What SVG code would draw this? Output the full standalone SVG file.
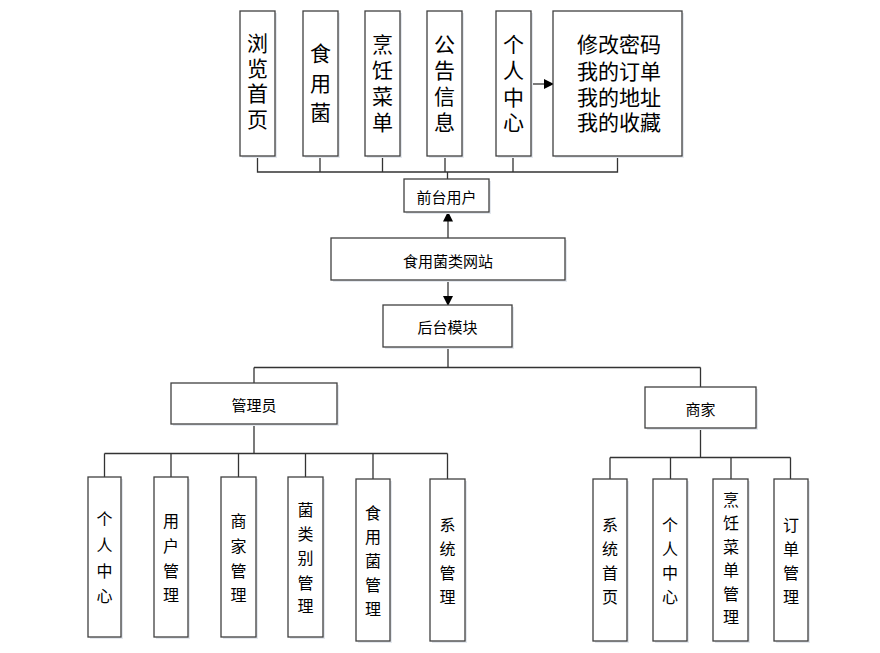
<svg xmlns="http://www.w3.org/2000/svg" width="880" height="653" viewBox="0 0 880 653">
<defs>
<marker id="arr" markerWidth="10" markerHeight="10" refX="9" refY="5" orient="auto" markerUnits="userSpaceOnUse">
<path d="M0,0 L10,5 L0,10 Z" fill="#000"/>
</marker>
<style>
.box{fill:#fff;stroke:#404040;stroke-width:1.3}
.sh{fill:#e4e8ee}
.t{font-family:"Noto Sans CJK SC","Noto Sans",sans-serif;fill:#000;text-anchor:middle;dominant-baseline:central}
.big{font-size:21px}
.mid{font-size:15px}
.sm{font-size:16px}
.ln{stroke:#333;stroke-width:1.3;fill:none}
</style>
</defs>
<rect width="880" height="653" fill="#fff"/>

<g id="connectors">
<path class="ln" d="M257.5,156 V172 H617.5 V156 M320,156 V172 M382.5,156 V172 M445,156 V172 M513,156 V172 M447.5,172 V180"/>
<path class="ln" d="M530.5,84 H553" marker-end="url(#arr)"/>
<path class="ln" d="M448,238 V212.5" marker-end="url(#arr)"/>
<path class="ln" d="M448,280 V305" marker-end="url(#arr)"/>
<path class="ln" d="M448,347 V367.5 M254,367.5 H700.5 M254,367.5 V383 M700.5,367.5 V387"/>
<path class="ln" d="M254,424 V453.5 M104.5,453.5 H447.5 M104.5,453.5 V477 M171,453.5 V477 M238.5,453.5 V477 M305.5,453.5 V477 M373,453.5 V479 M447.5,453.5 V479"/>
<path class="ln" d="M700.5,428 V457.5 M610,457.5 H790.5 M610,457.5 V479 M670.5,457.5 V479 M731,457.5 V479 M790.5,457.5 V479"/>
</g>

<g id="n_browse"><rect class="sh" x="242" y="13" width="35" height="145"/><rect class="box" x="240" y="11" width="35" height="145"/>
<text class="t big" x="257.5"><tspan x="257.5" y="42">浏</tspan><tspan x="257.5" y="67">览</tspan><tspan x="257.5" y="92">首</tspan><tspan x="257.5" y="118">页</tspan></text></g>
<g id="n_mushroom"><rect class="sh" x="305" y="13" width="35" height="145"/><rect class="box" x="303" y="11" width="35" height="145"/>
<text class="t big"><tspan x="320.5" y="52">食</tspan><tspan x="320.5" y="82">用</tspan><tspan x="320.5" y="111">菌</tspan></text></g>
<g id="n_cook"><rect class="sh" x="367" y="13" width="35" height="145"/><rect class="box" x="365" y="11" width="35" height="145"/>
<text class="t big"><tspan x="382.5" y="43">烹</tspan><tspan x="382.5" y="69">饪</tspan><tspan x="382.5" y="95">菜</tspan><tspan x="382.5" y="121">单</tspan></text></g>
<g id="n_notice"><rect class="sh" x="429" y="13" width="35" height="145"/><rect class="box" x="427" y="11" width="35" height="145"/>
<text class="t big"><tspan x="444.5" y="43">公</tspan><tspan x="444.5" y="69">告</tspan><tspan x="444.5" y="95">信</tspan><tspan x="444.5" y="121">息</tspan></text></g>
<g id="n_personal"><rect class="sh" x="498" y="13" width="35" height="145"/><rect class="box" x="496" y="11" width="35" height="145"/>
<text class="t big"><tspan x="513.5" y="43">个</tspan><tspan x="513.5" y="69">人</tspan><tspan x="513.5" y="96">中</tspan><tspan x="513.5" y="121">心</tspan></text></g>
<g id="n_personal_items"><rect class="sh" x="555" y="13" width="129" height="145"/><rect class="box" x="553" y="11" width="129" height="145"/>
<text class="t big"><tspan x="619" y="43">修改密码</tspan><tspan x="619" y="70">我的订单</tspan><tspan x="619" y="96">我的地址</tspan><tspan x="619" y="121">我的收藏</tspan></text></g>

<g id="n_front"><rect class="sh" x="406" y="181" width="85" height="33"/><rect class="box" x="404" y="179" width="85" height="33"/>
<text class="t mid" x="446.5" y="196">前台用户</text></g>
<g id="n_site"><rect class="sh" x="333" y="240" width="234" height="42"/><rect class="box" x="331" y="238" width="234" height="42"/>
<text class="t mid" x="448" y="260">食用菌类网站</text></g>
<g id="n_back"><rect class="sh" x="385" y="307" width="129" height="42"/><rect class="box" x="383" y="305" width="129" height="42"/>
<text class="t mid" x="447.5" y="326">后台模块</text></g>

<g id="n_admin"><rect class="sh" x="173" y="385" width="166" height="41"/><rect class="box" x="171" y="383" width="166" height="41"/>
<text class="t mid" x="254" y="404">管理员</text></g>
<g id="n_merchant"><rect class="sh" x="647" y="389" width="111" height="41"/><rect class="box" x="645" y="387" width="111" height="41"/>
<text class="t mid" x="700.5" y="408">商家</text></g>

<g id="a_personal"><rect class="sh" x="90" y="479" width="33" height="160"/><rect class="box" x="88" y="477" width="33" height="160"/>
<text class="t sm"><tspan x="104.5" y="518">个</tspan><tspan x="104.5" y="544">人</tspan><tspan x="104.5" y="570">中</tspan><tspan x="104.5" y="595">心</tspan></text></g>
<g id="a_user"><rect class="sh" x="156" y="479" width="34" height="160"/><rect class="box" x="154" y="477" width="34" height="160"/>
<text class="t sm"><tspan x="171" y="520">用</tspan><tspan x="171" y="545">户</tspan><tspan x="171" y="570">管</tspan><tspan x="171" y="594">理</tspan></text></g>
<g id="a_merchant"><rect class="sh" x="223" y="479" width="35" height="160"/><rect class="box" x="221" y="477" width="35" height="160"/>
<text class="t sm"><tspan x="238.5" y="520">商</tspan><tspan x="238.5" y="545">家</tspan><tspan x="238.5" y="570">管</tspan><tspan x="238.5" y="594">理</tspan></text></g>
<g id="a_category"><rect class="sh" x="290" y="479" width="35" height="160"/><rect class="box" x="288" y="477" width="35" height="160"/>
<text class="t sm"><tspan x="305.5" y="509">菌</tspan><tspan x="305.5" y="533">类</tspan><tspan x="305.5" y="557">别</tspan><tspan x="305.5" y="582">管</tspan><tspan x="305.5" y="605">理</tspan></text></g>
<g id="a_mushroom"><rect class="sh" x="358" y="481" width="34" height="162"/><rect class="box" x="356" y="479" width="34" height="162"/>
<text class="t sm"><tspan x="373" y="512">食</tspan><tspan x="373" y="536">用</tspan><tspan x="373" y="560">菌</tspan><tspan x="373" y="584">管</tspan><tspan x="373" y="608">理</tspan></text></g>
<g id="a_system"><rect class="sh" x="432" y="481" width="35" height="162"/><rect class="box" x="430" y="479" width="35" height="162"/>
<text class="t sm"><tspan x="447.5" y="524">系</tspan><tspan x="447.5" y="548">统</tspan><tspan x="447.5" y="572">管</tspan><tspan x="447.5" y="596">理</tspan></text></g>

<g id="m_home"><rect class="sh" x="595" y="481" width="34" height="162"/><rect class="box" x="593" y="479" width="34" height="162"/>
<text class="t sm"><tspan x="610" y="524">系</tspan><tspan x="610" y="548">统</tspan><tspan x="610" y="572">首</tspan><tspan x="610" y="596">页</tspan></text></g>
<g id="m_personal"><rect class="sh" x="655" y="481" width="34" height="162"/><rect class="box" x="653" y="479" width="34" height="162"/>
<text class="t sm"><tspan x="670" y="524">个</tspan><tspan x="670" y="548">人</tspan><tspan x="670" y="572">中</tspan><tspan x="670" y="596">心</tspan></text></g>
<g id="m_cook"><rect class="sh" x="715" y="481" width="35" height="162"/><rect class="box" x="713" y="479" width="35" height="162"/>
<text class="t sm"><tspan x="731" y="499">烹</tspan><tspan x="731" y="522">饪</tspan><tspan x="731" y="546">菜</tspan><tspan x="731" y="569">单</tspan><tspan x="731" y="593">管</tspan><tspan x="731" y="616">理</tspan></text></g>
<g id="m_order"><rect class="sh" x="776" y="481" width="34" height="162"/><rect class="box" x="774" y="479" width="34" height="162"/>
<text class="t sm"><tspan x="791" y="524">订</tspan><tspan x="791" y="548">单</tspan><tspan x="791" y="572">管</tspan><tspan x="791" y="596">理</tspan></text></g>
</svg>
